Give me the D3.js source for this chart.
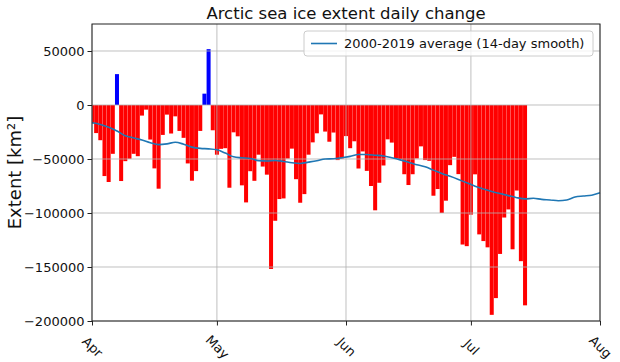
<!DOCTYPE html>
<html><head><meta charset="utf-8">
<script src="https://cdn.jsdelivr.net/npm/d3@7"></script>
<style>body{margin:0;background:#fff;}svg{display:block;font-family:"DejaVu Sans",sans-serif;}</style>
</head><body><svg id="c" width="620" height="362"></svg>
<script>
// ---- data ----
const title = "Arctic sea ice extent daily change";
const yLabel = "Extent [km²]";
const legendLabel = "2000-2019 average (14-day smooth)";
const startDate = "2020-04-01";
const endDate = "2020-08-01";
// daily change, one value per day starting Apr 1
const dailyChange = [
 -17000,-26000,-32600,-65800,-71300,-45200,28600,-70400,-52000,-49800,
 -45200,-47400,-9800,-4300,-32000,-58700,-77500,-27700,-8900,-26400,
 -10500,-24000,-30400,-54100,-70100,-61200,-24000,10500,51700,-23400,
 -46000,-40600,-40000,-76600,-25300,-29000,-74400,-90200,-61300,-70200,
 -46000,-57000,-64500,-151800,-107200,-87100,-86500,-49600,-40400,-68700,
 -90500,-82500,-46000,-34600,-26200,-8700,-24600,-34000,-25500,-51000,
 -49500,-28800,-40000,-33600,-58800,-43000,-61000,-75000,-97500,-72000,
 -56000,-31800,-34800,-49500,-50000,-64100,-74100,-64100,-49500,-38300,
 -51000,-51700,-84000,-77800,-100000,-88600,-55700,-48000,-64000,-129200,
 -130700,-101500,-64200,-119800,-126000,-131800,-194300,-178800,-137900,-104200,
 -96700,-133600,-79200,-144600,-185500
];
// 2000-2019 average, read every 2 days from Apr 1
const avgDayOffsets = [0,2,4,6,8,10,12,14,16,18,20,22,24,26,28,30,32,34,36,38,40,42,44,46,48,50,52,54,56,58,60,62,64,66,68,70,72,74,76,78,80,82,84,86,88,90,92,94,96,98,100,102,104,106,108,110,112,114,116,118,120,122];
const avgValues = [
 -16500,-18000,-20500,-24000,-28500,-30500,-32500,-35000,-36700,-36000,
 -34500,-36300,-39000,-40200,-40600,-41500,-44500,-48000,-48900,-49600,
 -51500,-51800,-51400,-52300,-53500,-54100,-52900,-51600,-50000,-49800,
 -48800,-47600,-45800,-45900,-46500,-47200,-48900,-50800,-53000,-55300,
 -57200,-60300,-63400,-66000,-68900,-72000,-75200,-77800,-80000,-82000,
 -83900,-85800,-86900,-86400,-87400,-87900,-88600,-87900,-85200,-84300,
 -83500,-81200
];
const yTicks = [50000,0,-50000,-100000,-150000,-200000];
const yDomain = [-200000, 75000];

// ---- layout ----
const svg = d3.select("#c");
const L = 92, R = 600, T = 24, B = 321;
const t0 = new Date(startDate + "T00:00:00Z"), t1 = new Date(endDate + "T00:00:00Z");
const x = d3.scaleUtc().domain([t0, t1]).range([L, R]);
const y = d3.scaleLinear().domain(yDomain).range([B, T]);
const dates = dailyChange.map((v, i) => d3.utcDay.offset(t0, i));
const avgDates = avgDayOffsets.map(d => d3.utcDay.offset(t0, d));
const dayW = x(d3.utcDay.offset(t0, 1)) - x(t0);
const fmt = v => (v < 0 ? "\u2212" + Math.abs(v) : String(v));

svg.append("defs").append("clipPath").attr("id", "clip")
  .append("rect").attr("x", L).attr("y", T).attr("width", R - L).attr("height", B - T);

// bars
svg.append("g").attr("clip-path", "url(#clip)").selectAll("rect").data(dailyChange).join("rect")
  .attr("x", (d, i) => x(dates[i]) - dayW / 2 + 0.08)
  .attr("width", dayW - 0.16)
  .attr("y", d => y(Math.max(0, d)))
  .attr("height", d => Math.abs(y(d) - y(0)))
  .attr("fill", d => d >= 0 ? "#0000ff" : "#ff0000");

// grid
const xTicks = d3.utcMonth.range(t0, d3.utcDay.offset(t1, 1));
const grid = svg.append("g").attr("stroke", "#b0b0b0").attr("stroke-opacity", 0.8).attr("stroke-width", 1);
grid.selectAll(".gx").data(xTicks).join("line")
  .attr("x1", d => x(d)).attr("x2", d => x(d)).attr("y1", T).attr("y2", B);
grid.selectAll(".gy").data(yTicks).join("line")
  .attr("x1", L).attr("x2", R).attr("y1", d => y(d)).attr("y2", d => y(d));

// average line
svg.append("path").datum(avgValues)
  .attr("d", d3.line().curve(d3.curveMonotoneX).x((d, i) => x(avgDates[i])).y(d => y(d)))
  .attr("fill", "none").attr("stroke", "#1f77b4").attr("stroke-width", 1.6);

// axes
const yAxis = svg.append("g").attr("transform", `translate(${L},0)`)
  .call(d3.axisLeft(y).tickValues(yTicks).tickFormat(fmt).tickSize(4.5).tickPadding(3));
const xAxis = svg.append("g").attr("transform", `translate(0,${B})`)
  .call(d3.axisBottom(x).tickValues(xTicks).tickFormat(d3.utcFormat("%b")).tickSize(4.5));
[yAxis, xAxis].forEach(a => {
  a.select(".domain").remove();
  a.selectAll("line").attr("stroke", "#222");
  a.selectAll("text").attr("font-size", 13).attr("fill", "#111").attr("font-family", "DejaVu Sans");
});
xAxis.selectAll("text")
  .attr("text-anchor", "middle").attr("dominant-baseline", "central")
  .attr("y", 0).attr("dy", 0)
  .attr("transform", "translate(0,26) rotate(45)");

// frame
svg.append("rect").attr("x", L).attr("y", T).attr("width", R - L).attr("height", B - T)
  .attr("fill", "none").attr("stroke", "#222").attr("stroke-width", 1);

// title & labels
svg.append("text").attr("x", (L + R) / 2).attr("y", 19).attr("text-anchor", "middle")
  .attr("font-size", 16.5).attr("fill", "#111").text(title);
svg.append("text").attr("transform", `translate(21,${(T + B) / 2}) rotate(-90)`)
  .attr("text-anchor", "middle").attr("font-size", 18).attr("fill", "#111").text(yLabel);

// legend
const lg = svg.append("g");
lg.append("rect").attr("x", 304).attr("y", 31).attr("width", 289).attr("height", 25).attr("rx", 3)
  .attr("fill", "#fff").attr("fill-opacity", 0.8).attr("stroke", "#cccccc");
lg.append("line").attr("x1", 311).attr("x2", 337).attr("y1", 43.5).attr("y2", 43.5)
  .attr("stroke", "#1f77b4").attr("stroke-width", 1.6);
lg.append("text").attr("x", 344).attr("y", 48).attr("font-size", 13).attr("fill", "#111").text(legendLabel);
</script></body></html>
